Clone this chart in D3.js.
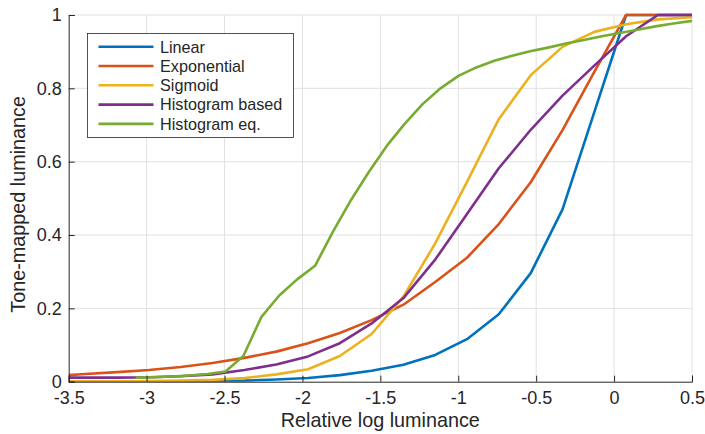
<!DOCTYPE html>
<html>
<head>
<meta charset="utf-8">
<script src="https://cdn.jsdelivr.net/npm/d3@7"></script>
<style>
  html, body { margin: 0; padding: 0; background: #fff; }
  svg { display: block; }
  text { font-family: "Liberation Sans", Arial, Helvetica, sans-serif; fill: #262626; }
</style>
</head>
<body>
<div id="chart"></div>
<script>
// ---- data ----
const xMain = [-3.5, -3.393, -3.189, -2.985, -2.781, -2.577, -2.372, -2.168, -1.964, -1.760, -1.556,
               -1.352, -1.148, -0.944, -0.740, -0.535, -0.331, -0.127, 0.077, 0.281, 0.5];
const linearVals = [0.0002, 0.0003, 0.0005, 0.0008, 0.001, 0.002, 0.003, 0.006, 0.010, 0.018, 0.030,
                    0.046, 0.073, 0.116, 0.184, 0.296, 0.470, 0.735, 1, 1, 1];
const exponentialVals = [0.018, 0.021, 0.026, 0.032, 0.040, 0.051, 0.065, 0.082, 0.105, 0.133, 0.168,
                         0.210, 0.272, 0.338, 0.430, 0.544, 0.686, 0.845, 1, 1, 1];
const sigmoidVals = [0.001, 0.001, 0.001, 0.002, 0.003, 0.005, 0.010, 0.020, 0.034, 0.070, 0.130,
                     0.232, 0.377, 0.545, 0.716, 0.836, 0.913, 0.954, 0.975, 0.988, 0.994];
const histBasedVals = [0.011, 0.011, 0.011, 0.012, 0.015, 0.020, 0.032, 0.047, 0.069, 0.105, 0.159,
                       0.228, 0.333, 0.457, 0.582, 0.687, 0.780, 0.862, 0.942, 1, 1];
const xEq = [-3.07, -2.955, -2.84, -2.725, -2.61, -2.494, -2.379, -2.264, -2.149, -2.034, -1.919,
             -1.804, -1.689, -1.574, -1.459, -1.344, -1.229, -1.114, -0.999, -0.884, -0.769,
             -0.654, -0.539, -0.424, -0.309, -0.194, -0.079, 0.036, 0.151, 0.266, 0.381, 0.5];
const histEqVals = [0.011, 0.012, 0.014, 0.017, 0.021, 0.028, 0.070, 0.176, 0.235, 0.279, 0.316,
                    0.409, 0.495, 0.572, 0.643, 0.703, 0.757, 0.800, 0.834, 0.857, 0.875,
                    0.889, 0.901, 0.911, 0.922, 0.932, 0.942, 0.951, 0.960, 0.969, 0.977, 0.984];

const seriesNames = ["Linear", "Exponential", "Sigmoid", "Histogram based", "Histogram eq."];
const seriesColors = ["#0072BD", "#D95319", "#EDB120", "#7E2F8E", "#77AC30"];
const xTicks = [-3.5, -3, -2.5, -2, -1.5, -1, -0.5, 0, 0.5];
const yTicks = [0, 0.2, 0.4, 0.6, 0.8, 1];
const xTitle = "Relative log luminance";
const yTitle = "Tone-mapped luminance";

// ---- layout ----
const W = 705, H = 434;
const mLeft = 68.7, mRight = 692, mTop = 15, mBottom = 381.7;

const series = [
  { name: seriesNames[0], color: seriesColors[0], xs: xMain, ys: linearVals },
  { name: seriesNames[1], color: seriesColors[1], xs: xMain, ys: exponentialVals },
  { name: seriesNames[2], color: seriesColors[2], xs: xMain, ys: sigmoidVals },
  { name: seriesNames[3], color: seriesColors[3], xs: xMain, ys: histBasedVals },
  { name: seriesNames[4], color: seriesColors[4], xs: xEq, ys: histEqVals }
];

const x = d3.scaleLinear().domain([-3.5, 0.5]).range([mLeft, mRight]);
const y = d3.scaleLinear().domain([0, 1]).range([mBottom, mTop]);

const svg = d3.select("#chart").append("svg").attr("width", W).attr("height", H);

// grid
const grid = svg.append("g");
grid.selectAll("line.gx").data(xTicks.slice(1)).enter().append("line")
  .attr("x1", d => x(d)).attr("x2", d => x(d)).attr("y1", mTop).attr("y2", mBottom)
  .attr("stroke", "#e1e1e1").attr("stroke-width", 1);
grid.selectAll("line.gy").data(yTicks.slice(1)).enter().append("line")
  .attr("x1", mLeft).attr("x2", mRight).attr("y1", d => y(d)).attr("y2", d => y(d))
  .attr("stroke", "#e1e1e1").attr("stroke-width", 1);

// clip
svg.append("clipPath").attr("id", "plotclip").append("rect")
  .attr("x", mLeft).attr("y", mTop - 3).attr("width", mRight - mLeft).attr("height", mBottom - mTop + 3);

// lines
const line = d3.line().x(d => x(d[0])).y(d => y(d[1]));
svg.append("g").attr("clip-path", "url(#plotclip)")
  .selectAll("path").data(series).enter().append("path")
  .attr("d", s => line(s.xs.map((v, i) => [v, s.ys[i]])))
  .attr("fill", "none").attr("stroke", s => s.color)
  .attr("stroke-width", 2.6).attr("stroke-linejoin", "round");

// axes
const fmt = d => d3.format("~g")(d).replace("\u2212", "-");
const xAxis = d3.axisBottom(x).tickValues(xTicks).tickSize(-6).tickPadding(10).tickFormat(fmt);
const gx = svg.append("g").attr("transform", `translate(0,${mBottom})`).call(xAxis);
gx.select(".domain").attr("stroke", "#262626");
gx.selectAll(".tick line").attr("stroke", "#262626");
gx.selectAll(".tick text").attr("font-size", 18).attr("fill", "#262626")
  .attr("font-family", '"Liberation Sans", Arial, sans-serif');

const yAxis = d3.axisLeft(y).tickValues(yTicks).tickSize(-6).tickPadding(7).tickFormat(fmt);
const gy = svg.append("g").attr("transform", `translate(${mLeft},0)`).call(yAxis);
gy.select(".domain").attr("stroke", "#262626");
gy.selectAll(".tick line").attr("stroke", "#262626");
gy.selectAll(".tick text").attr("font-size", 18).attr("fill", "#262626")
  .attr("font-family", '"Liberation Sans", Arial, sans-serif');

// titles
svg.append("text").attr("x", (mLeft + mRight) / 2).attr("y", 427)
  .attr("text-anchor", "middle").attr("font-size", 19.8).text(xTitle);
svg.append("text").attr("transform", `translate(25,${(mTop + mBottom) / 2 + 6}) rotate(-90)`)
  .attr("text-anchor", "middle").attr("font-size", 19.8).text(yTitle);

// legend
const lg = svg.append("g");
lg.append("rect").attr("x", 87.5).attr("y", 33.5).attr("width", 206).attr("height", 104)
  .attr("fill", "#fff").attr("stroke", "#262626").attr("stroke-width", 0.8);
const rowY = i => 46.7 + i * 19.3;
lg.selectAll("line.leg").data(series).enter().append("line")
  .attr("x1", 98.5).attr("x2", 153.5).attr("y1", (d, i) => rowY(i)).attr("y2", (d, i) => rowY(i))
  .attr("stroke", d => d.color).attr("stroke-width", 2.6);
lg.selectAll("text.leg").data(series).enter().append("text")
  .attr("x", 160).attr("y", (d, i) => rowY(i) + 5.8)
  .attr("font-size", 16.2).text(d => d.name);
</script>
</body>
</html>
